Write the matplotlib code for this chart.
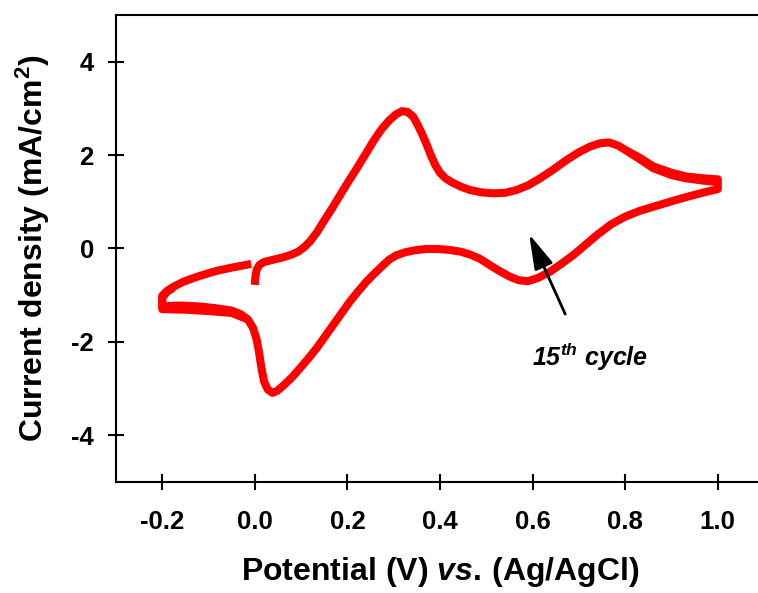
import matplotlib
matplotlib.use('Agg')
import matplotlib.pyplot as plt

# Fonts: bold Arial-like everywhere, mathtext in the same family
plt.rcParams['font.family'] = ['Liberation Sans', 'DejaVu Sans']
plt.rcParams['font.weight'] = 'bold'
plt.rcParams['axes.unicode_minus'] = False
plt.rcParams['mathtext.fontset'] = 'custom'
plt.rcParams['mathtext.rm'] = 'Liberation Sans:bold'
plt.rcParams['mathtext.bf'] = 'Liberation Sans:bold'
plt.rcParams['mathtext.it'] = 'Liberation Sans:bold:italic'

# CV curve (15th cycle), in scan order:
# anodic sweep 0 -> 1.0 V, cathodic sweep 1.0 -> -0.2 V, then back towards 0 V
potential = [0.000, 0.001, 0.004, 0.010, 0.020, 0.040, 0.061, 0.080, 0.095, 0.108,
             0.120, 0.135, 0.150, 0.167, 0.184, 0.202, 0.220, 0.238, 0.255, 0.272,
             0.290, 0.305, 0.318, 0.330, 0.342, 0.352, 0.360, 0.370, 0.380, 0.390,
             0.400, 0.412, 0.425, 0.443, 0.465, 0.490, 0.515, 0.540, 0.565, 0.590,
             0.616, 0.645, 0.673, 0.700, 0.724, 0.745, 0.765, 0.785, 0.805, 0.830,
             0.860, 0.900, 0.932, 0.970, 1.000,
             1.000, 0.970, 0.932, 0.900, 0.860, 0.830, 0.800, 0.770, 0.738, 0.712,
             0.688, 0.662, 0.637, 0.612, 0.590, 0.570, 0.550, 0.528, 0.505, 0.486,
             0.465, 0.445, 0.420, 0.395, 0.370, 0.345, 0.325, 0.305, 0.290, 0.277,
             0.260, 0.241, 0.223, 0.205, 0.187, 0.169, 0.151, 0.133, 0.115, 0.097,
             0.080, 0.062, 0.048, 0.038, 0.028, 0.020, 0.014, 0.009, 0.004, -0.004,
             -0.015, -0.030, -0.050, -0.083, -0.120, -0.160, -0.200,
             -0.200, -0.190, -0.176, -0.154, -0.120, -0.083, -0.050, -0.008]
current = [-0.78, -0.62, -0.45, -0.35, -0.29, -0.24, -0.19, -0.13, -0.06, 0.04,
           0.16, 0.36, 0.60, 0.86, 1.14, 1.43, 1.71, 2.00, 2.28, 2.53,
           2.74, 2.87, 2.94, 2.92, 2.82, 2.64, 2.48, 2.25, 2.00, 1.78,
           1.62, 1.50, 1.42, 1.33, 1.25, 1.20, 1.18, 1.19, 1.25, 1.35,
           1.50, 1.69, 1.89, 2.06, 2.18, 2.25, 2.27, 2.20, 2.08, 1.95,
           1.76, 1.62, 1.54, 1.50, 1.48,
           1.27, 1.20, 1.10, 1.01, 0.89, 0.80, 0.68, 0.52, 0.28, 0.06,
           -0.14, -0.33, -0.50, -0.63, -0.70, -0.68, -0.60, -0.48, -0.34, -0.22,
           -0.13, -0.07, -0.03, -0.01, -0.01, -0.04, -0.08, -0.15, -0.24, -0.36,
           -0.52, -0.71, -0.92, -1.14, -1.39, -1.64, -1.89, -2.14, -2.36, -2.57,
           -2.76, -2.93, -3.05, -3.09, -3.02, -2.85, -2.55, -2.22, -1.95, -1.70,
           -1.52, -1.41, -1.33, -1.28, -1.24, -1.22, -1.24,
           -1.01, -0.91, -0.82, -0.71, -0.59, -0.48, -0.41, -0.33]

# spread of the repeated cycles near the switching potentials
left_tip_x = [-0.015, -0.050, -0.100, -0.150, -0.200, -0.200, -0.190, -0.176]
left_tip_y = [-1.52, -1.38, -1.34, -1.31, -1.30, -1.05, -0.93, -0.84]
right_tip_x = [0.805, 0.830, 0.860, 0.900, 0.932, 0.970, 1.000]
right_tip_y = [2.08, 1.92, 1.72, 1.57, 1.50, 1.45, 1.42]

x_ticks = [-0.2, 0.0, 0.2, 0.4, 0.6, 0.8, 1.0]
x_tick_labels = ['-0.2', '0.0', '0.2', '0.4', '0.6', '0.8', '1.0']
y_ticks = [-4, -2, 0, 2, 4]

fig = plt.figure(figsize=(7.58, 5.93), dpi=100)
# right edge of the axes lies just outside the figure, as in the original
ax = fig.add_axes([0.153, 0.187, 0.855, 0.788])

line_kw = dict(color='#ff0000', lw=5.8, solid_capstyle='butt', solid_joinstyle='round')
ax.plot(potential, current, **line_kw)
ax.plot(left_tip_x, left_tip_y, **line_kw)
ax.plot(right_tip_x, right_tip_y, **line_kw)

ax.set_xlim(-0.3, 1.1)
ax.set_ylim(-5, 5)
ax.set_xticks(x_ticks)
ax.set_xticklabels(x_tick_labels)
ax.set_yticks(y_ticks)
ax.tick_params(direction='inout', length=12, width=1.5, labelsize=18.5)
ax.tick_params(axis='x', pad=14)
ax.tick_params(axis='y', pad=10)
for s in ax.spines.values():
    s.set_linewidth(1.5)

ax.set_xlabel(r'Potential (V) $\mathit{vs.}\,$(Ag/AgCl)', fontsize=23, fontweight='bold',
              labelpad=15)
ax.set_ylabel(r'Current density (mA/cm$^{2}$)', fontsize=23, fontweight='bold', labelpad=14)

# arrow + label for the cycle
ax.annotate('', xy=(0.59, 0.36), xytext=(0.673, -1.46),
            arrowprops=dict(arrowstyle='-|>,head_length=0.86,head_width=0.24',
                            color='black', lw=2, mutation_scale=25))
ax.text(0.598, -2.52, r'15$^{th}$ cycle', fontsize=18, fontweight='bold',
        style='italic', va='baseline', ha='left')

fig.savefig('out.png', dpi=100)
